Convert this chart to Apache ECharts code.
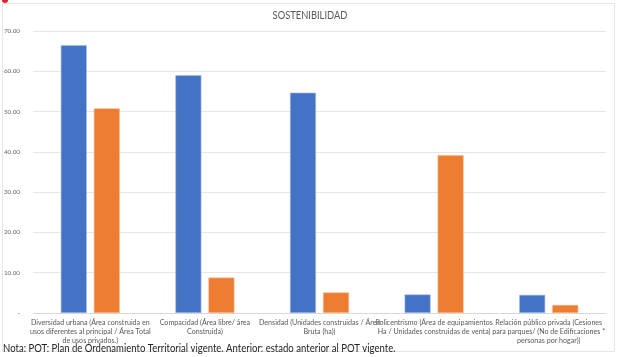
<!DOCTYPE html>
<html>
<head>
<meta charset="utf-8">
<script src="https://cdn.jsdelivr.net/npm/echarts@6/dist/echarts.min.js"></script>
<style>
  html, body { margin: 0; padding: 0; background: #fff; }
  #chart { width: 621px; height: 357px; }
</style>
</head>
<body>
<div id="chart"></div>
<script>
// categorias del eje x
var categories = [
  'Diversidad urbana (Área construida en\nusos diferentes al principal / Área Total\nde usos privados.)',
  'Compacidad (Área libre/ área\nConstruida)',
  'Densidad (Unidades construidas / Área\nBruta (ha))',
  'Policentrismo (Área de equipamientos\nHa / Unidades construidas de venta)',
  'Relación público privada (Cesiones\npara parques/ (No de Edificaciones *\npersonas por hogar))'
];
var potValues = [66.5, 59.0, 54.7, 4.6, 4.5];
var anteriorValues = [50.8, 8.8, 5.1, 39.2, 2.0];
var yTicks = [0, 10, 20, 30, 40, 50, 60, 70];

var chart = echarts.init(document.getElementById('chart'));
chart.setOption({
  animation: false,
  graphic: [
    {
      type: 'rect',
      shape: { x: 2.5, y: 3.5, width: 612, height: 348 },
      style: { fill: 'none', stroke: '#e6e6e6', lineWidth: 1 },
      z: -1
    },
    {
      type: 'circle',
      shape: { cx: 5, cy: 0, r: 3 },
      style: { fill: '#e02020' }
    },
    {
      type: 'text',
      x: 310,
      y: 10,
      scaleX: 0.85,
      style: {
        text: 'SOSTENIBILIDAD',
        fill: '#595959',
        fontSize: 11,
        fontFamily: 'Lato',
        align: 'center'
      }
    },
    {
      type: 'text',
      x: 3,
      y: 342,
      scaleX: 0.83,
      style: {
        text: 'Nota: POT: Plan de Ordenamiento Territorial vigente. Anterior: estado anterior al POT vigente.',
        fill: '#222',
        fontSize: 11.5,
        fontFamily: 'Lato'
      }
    }
  ],
  grid: { left: 33, right: 15, top: 31, bottom: 44 },
  xAxis: {
    type: 'category',
    data: categories,
    axisTick: { show: false },
    axisLine: { lineStyle: { color: '#d9d9d9' } },
    axisLabel: {
      interval: 0,
      color: '#595959',
      fontSize: 7.1,
      lineHeight: 9,
      margin: 5,
      fontFamily: 'Lato'
    }
  },
  yAxis: {
    type: 'value',
    min: yTicks[0],
    max: yTicks[yTicks.length - 1],
    interval: 10,
    axisLine: { show: false },
    axisTick: { show: false },
    splitLine: { lineStyle: { color: '#e6e6e6' } },
    axisLabel: {
      color: '#666',
      fontSize: 6.3,
      margin: 13,
      fontFamily: 'Lato',
      formatter: function (v) { return v === 0 ? '-' : v.toFixed(2); }
    }
  },
  series: [
    {
      name: 'POT',
      type: 'bar',
      barWidth: '22.7%',
      barGap: '27%',
      itemStyle: { color: '#4472C4', borderColor: '#a9bde6', borderWidth: 0.6 },
      data: potValues
    },
    {
      name: 'Anterior',
      type: 'bar',
      barWidth: '22.7%',
      itemStyle: { color: '#ED7D31', borderColor: '#f5b98f', borderWidth: 0.6 },
      data: anteriorValues
    }
  ]
});
</script>
</body>
</html>
